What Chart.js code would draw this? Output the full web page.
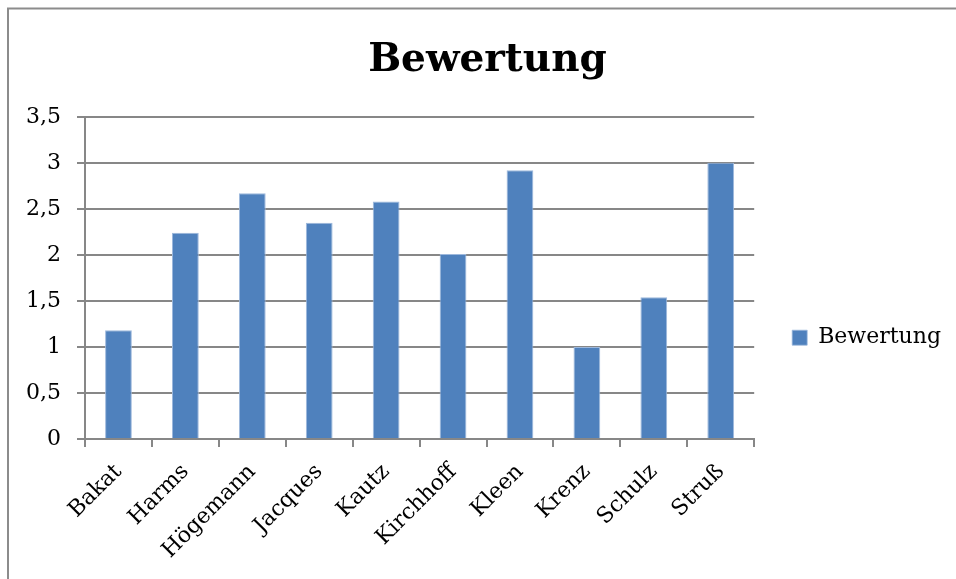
<!DOCTYPE html>
<html>
<head>
<meta charset="utf-8">
<script src="https://cdn.jsdelivr.net/npm/chart.js@4"></script>
<style>
  html, body { margin: 0; padding: 0; background: #fff; }
  #wrap { width: 956px; height: 579px; }
</style>
</head>
<body>
<div id="wrap"><canvas id="bewChart" width="956" height="579"></canvas></div>
<script>
    const categories = ["Bakat", "Harms", "Högemann", "Jacques", "Kautz", "Kirchhoff", "Kleen", "Krenz", "Schulz", "Struß"];
    const bewertung = [1.18, 2.24, 2.67, 2.35, 2.58, 2.01, 2.92, 1.0, 1.54, 3.0];
    const yMin = 0, yMax = 3.5, yStep = 0.5;

    const gray = "#878787";
    const serif = "'DejaVu Serif', serif";

    // frame line round the chart (only left and top show in the picture)
    const frame = {
        id: "frame",
        beforeDraw(chart) {
            const ctx = chart.ctx;
            ctx.save();
            ctx.strokeStyle = "#8c8c8c";
            ctx.lineWidth = 2;
            ctx.beginPath();
            ctx.moveTo(8, 579);
            ctx.lineTo(8, 8.5);
            ctx.lineTo(956, 8.5);
            ctx.stroke();
            ctx.restore();
        }
    };

    new Chart(document.getElementById("bewChart"), {
        type: "bar",
        data: {
            labels: categories,
            datasets: [{
                label: "Bewertung",
                data: bewertung,
                backgroundColor: "#4F81BD",
                borderColor: "#9db8dc",
                borderWidth: { top: 1, left: 1, right: 1, bottom: 0 },
                barPercentage: 0.4,
                categoryPercentage: 1
            }]
        },
        options: {
            responsive: false,
            animation: false,
            layout: { padding: { left: 24, right: 5, top: 0, bottom: 0 } },
            plugins: {
                tooltip: { enabled: false },
                title: {
                    display: true,
                    text: "Bewertung",
                    color: "#000",
                    font: { family: serif, size: 39, weight: "bold" },
                    padding: { top: 37, bottom: 33 }
                },
                legend: {
                    position: "right",
                    title: { display: true, text: "", padding: { top: 82, bottom: 0 } },
                    labels: {
                        color: "#000",
                        font: { family: serif, size: 22 },
                        boxWidth: 15,
                        boxHeight: 15,
                        padding: 38
                    }
                }
            },
            scales: {
                x: {
                    grid: { display: true, drawOnChartArea: false, offset: true, color: gray, lineWidth: 2, tickLength: 8 },
                    border: { color: gray, width: 2 },
                    ticks: {
                        color: "#000",
                        font: { family: serif, size: 22 },
                        maxRotation: 45,
                        minRotation: 45,
                        padding: 12
                    },
                    afterFit(scale) { scale.height = 140; }
                },
                y: {
                    min: yMin,
                    max: yMax,
                    grid: { color: gray, lineWidth: 2, tickLength: 8 },
                    border: { color: gray, width: 2 },
                    ticks: {
                        stepSize: yStep,
                        color: "#000",
                        font: { family: serif, size: 22 },
                        padding: 16,
                        callback: v => String(v).replace(".", ",")
                    },
                    afterFit(scale) { scale.width = 61; }
                }
            }
        },
        plugins: [frame]
    });
</script>
</body>
</html>
